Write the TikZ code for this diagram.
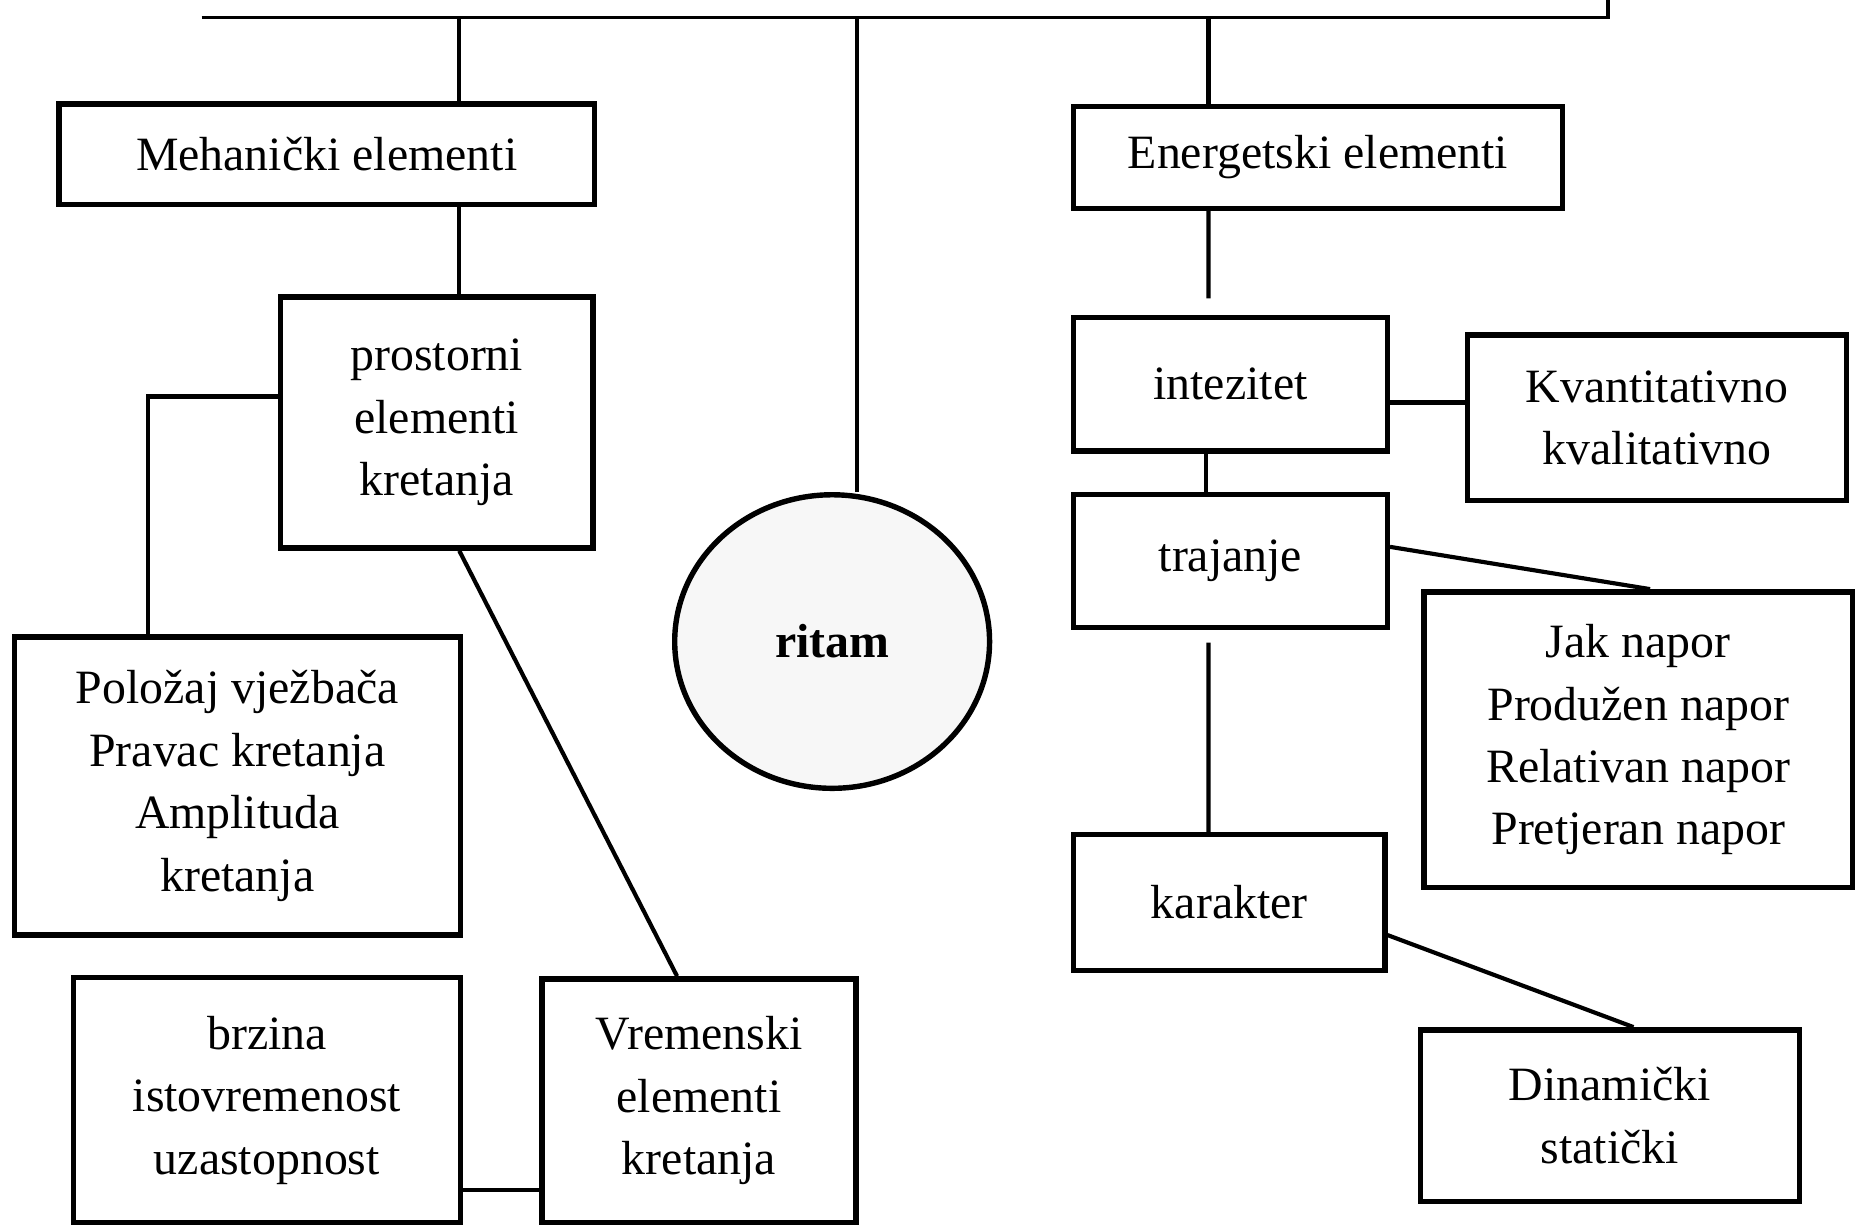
\documentclass[tikz,border=0pt]{standalone}
\usepackage{fontspec}
\setmainfont{Liberation Serif}
\usetikzlibrary{shapes.geometric}

\begin{document}
\begin{tikzpicture}[
		box/.style={draw=black, line width=1.3pt, inner sep=0pt, align=center, font=\fontsize{11.5}{15}\selectfont},
		link/.style={draw=black, line width=1pt},
		bar/.style={draw=black, line width=0.9pt}
		]
		\useasboundingbox (0,0) rectangle (15.68,10.39);
		\clip (0,0) rectangle (15.68,10.39);
		
		% Top box (cut off at the page edge)
		\node[minimum width=11.87cm, minimum height=1cm, inner sep=0pt] (top) at (7.645,10.75) {};
		\draw[bar] (top.south west) -- (top.south east) -- (top.north east);
		
		% Left branch: mechanical elements
		\node[box, minimum width=4.52cm, minimum height=0.85cm] (meh) at (2.76,9.085) {Mehanički elementi};
		\node[box, minimum width=2.64cm, minimum height=2.12cm] (prost) at (3.69,6.82) {prostorni\\elementi\\kretanja};
		\node[box, minimum width=3.77cm, minimum height=2.52cm] (poloz) at (2.005,3.75) {Položaj vježbača\\Pravac kretanja\\Amplituda\\kretanja};
		\node[box, minimum width=3.27cm, minimum height=2.07cm] (brz) at (2.255,1.095) {brzina\\istovremenost\\uzastopnost};
		\node[box, minimum width=2.65cm, minimum height=2.06cm] (vrem) at (5.905,1.09) {Vremenski\\elementi\\kretanja};
		
		% Middle: rhythm
		\node[box, ellipse, fill=black!3, minimum width=2.66cm, minimum height=2.48cm, font=\fontsize{11.5}{15}\selectfont\bfseries] (ritam) at (7.03,4.97) {ritam};
		
		% Right branch: energy elements
		\node[box, minimum width=4.13cm, minimum height=0.86cm] (energ) at (11.135,9.06) {Energetski elementi};
		\node[box, minimum width=2.65cm, minimum height=1.13cm] (intez) at (10.395,7.145) {intezitet};
		\node[box, minimum width=3.2cm, minimum height=1.4cm] (kvant) at (14.0,6.86) {Kvantitativno\\kvalitativno};
		\node[box, minimum width=2.65cm, minimum height=1.12cm] (traj) at (10.395,5.65) {trajanje};
		\node[box, minimum width=3.62cm, minimum height=2.5cm] (jak) at (13.84,4.14) {Jak napor\\Produžen napor\\Relativan napor\\Pretjeran napor};
		\node[box, minimum width=2.63cm, minimum height=1.15cm] (karak) at (10.385,2.765) {karakter};
		\node[box, minimum width=3.2cm, minimum height=1.45cm] (dinam) at (13.6,0.965) {Dinamički\\statički};
		
		% free ends of the broken lines
		\coordinate (engap) at (10.21,7.87);
		\coordinate (kagap) at (10.21,4.96);
		
		% connectors from the top box
		\draw[link] ([xshift=1.12cm]meh.north) -- ([xshift=1.12cm]meh.north |- top.south);
		\draw[link] ([xshift=0.21cm]ritam.north) -- ([xshift=0.21cm]ritam.north |- top.south);
		\draw[link] ([xshift=-0.925cm]energ.north) -- ([xshift=-0.925cm]energ.north |- top.south);
		
		% left connectors
		\draw[link] ([xshift=1.12cm]meh.south) -- ([xshift=1.12cm]meh.south |- prost.north);
		\draw[link] ([yshift=0.22cm]prost.west) -| ([xshift=-0.755cm]poloz.north);
		\draw[link] ([xshift=0.19cm]prost.south) -- ([xshift=-0.185cm]vrem.north);
		\draw[link] ([yshift=-0.755cm]brz.east) -- ([yshift=-0.755cm]brz.east -| vrem.west);
		
		% right connectors
		\draw[link] ([xshift=-0.925cm]energ.south) -- (engap);
		\draw[link] ([yshift=-0.155cm]intez.east) -- ([yshift=-0.155cm]intez.east -| kvant.west);
		\draw[link] ([xshift=-0.205cm]intez.south) -- ([xshift=-0.205cm]intez.south |- traj.north);
		\draw[link] ([yshift=0.12cm]traj.east) -- ([xshift=0.1cm]jak.north);
		\draw[link] (kagap) -- ([xshift=-0.175cm]karak.north);
		\draw[link] ([yshift=-0.275cm]karak.east) -- ([xshift=0.2cm]dinam.north);
		
	\end{tikzpicture}
\end{document}
